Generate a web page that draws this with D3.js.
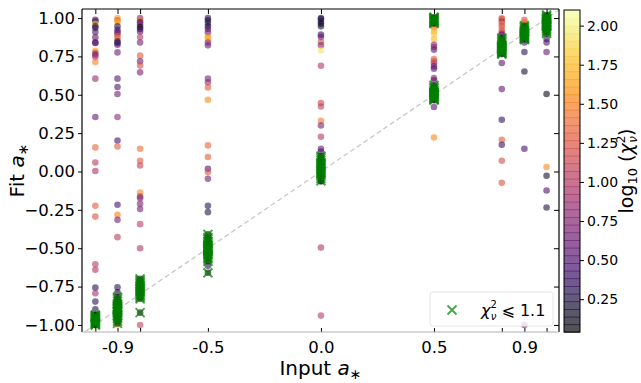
<!DOCTYPE html>
<html>
<head>
<meta charset="utf-8">
<script src="https://cdn.jsdelivr.net/npm/d3@7"></script>
<style>
  body { margin: 0; background: #fff; }
  text { font-family: "DejaVu Sans", sans-serif; }
</style>
</head>
<body>
<div id="chart"></div>
<script>
// input spins (one column of fits each)
const inputs = [-0.998, -0.9, -0.8, -0.5, 0, 0.5, 0.8, 0.9, 0.998];
const xTickVals = [-0.9, -0.5, 0, 0.5, 0.9];
const xTickLabels = ["-0.9", "-0.5", "0.0", "0.5", "0.9"];
const yTicks = [-1, -0.75, -0.5, -0.25, 0, 0.25, 0.5, 0.75, 1];
const cbTicks = [0.25, 0.5, 0.75, 1, 1.25, 1.5, 1.75, 2];
const cbDomain = [0.04, 2.1];
const goodChi = Math.log10(1.1);

// [fit a*, log10 chi2_nu] per input column
const fitsM0998 = [[0.989, 0.3], [0.978, 0.4], [0.963, 1.8], [0.946, 0.25], [0.935, 0.35], [0.909, 0.5],
  [0.874, 0.55], [0.841, 0.45], [0.838, 0.5], [0.787, 1.6], [0.772, 1.1], [0.761, 0.6], [0.746, 1.0],
  [0.714, 1.5], [0.605, 0.85], [0.355, 0.6], [0.157, 1.35], [0.059, 1.05], [0.003, 0.95], [-0.224, 1.3],
  [-0.294, 1.25], [-0.604, 1.05], [-0.641, 1.0], [-0.757, 0.3], [-0.793, 0.95], [-0.848, 0.3],
  [-0.898, 0.25], [-0.935, 0.2], [-0.967, 0.05], [-0.985, 0.1], [-1.0, 0.8],
  [-0.935, 0.02], [-0.94, 0.02], [-0.945, 0.03], [-0.95, 0.01], [-0.955, 0.02], [-0.96, 0.01],
  [-0.965, 0.03], [-0.97, 0.03], [-0.975, 0.01], [-0.98, 0.02], [-0.985, 0.03], [-0.99, 0.01],
  [-0.995, 0.02], [-1.0, 0.03]];
const fitsM09 = [[1.0, 1.6], [0.985, 1.3], [0.972, 1.7], [0.946, 0.3], [0.924, 0.5], [0.909, 0.45],
  [0.896, 0.85], [0.881, 1.3], [0.866, 1.45], [0.848, 0.35], [0.838, 0.3], [0.826, 0.5], [0.776, 0.65],
  [0.605, 0.55], [0.551, 0.5], [0.505, 0.65], [0.355, 0.8], [0.202, 0.45], [0.163, 1.3], [-0.217, 0.45],
  [-0.282, 1.5], [-0.315, 0.65], [-0.428, 1.05], [-0.754, 0.3], [-0.787, 0.15], [-1.0, 1.8],
  [-0.82, 0.02], [-0.83, 0.02], [-0.845, 0.01], [-0.86, 0.01], [-0.87, 0.02], [-0.88, 0.03],
  [-0.885, 0.01], [-0.89, 0.02], [-0.895, 0.03], [-0.9, 0.01], [-0.905, 0.02], [-0.91, 0.02],
  [-0.915, 0.01], [-0.92, 0.03], [-0.93, 0.02], [-0.94, 0.02], [-0.95, 0.03], [-0.96, 0.01],
  [-0.975, 0.02], [-0.99, 0.03]];
const fitsM08 = [[1.0, 0.8], [0.985, 1.4], [0.972, 0.3], [0.957, 0.75], [0.942, 0.1], [0.929, 0.25],
  [0.913, 0.5], [0.877, 1.0], [0.841, 0.65], [0.755, 1.3], [0.718, 0.65], [0.69, 1.2], [0.646, 0.7],
  [0.148, 1.4], [0.07, 1.3], [0.039, 1.1], [-0.137, 1.55], [-0.163, 0.85], [-0.174, 0.8], [-0.211, 0.7],
  [-0.245, 0.7], [-0.343, 1.05], [-0.5, 1.0], [-0.76, 0.3], [-1.0, 1.1],
  [-0.7, 0.02], [-0.71, 0.02], [-0.72, 0.01], [-0.73, 0.03], [-0.74, 0.03], [-0.75, 0.01],
  [-0.76, 0.02], [-0.77, 0.02], [-0.78, 0.01], [-0.79, 0.03], [-0.8, 0.02], [-0.81, 0.01],
  [-0.82, 0.03], [-0.83, 0.02], [-0.92, 0.02]];
const fitsM05 = [[1.0, 0.3], [0.985, 0.25], [0.968, 0.3], [0.946, 0.15], [0.929, 0.5], [0.907, 0.65],
  [0.877, 1.5], [0.863, 1.75], [0.841, 0.8], [0.822, 0.65], [0.605, 0.7], [0.581, 0.85], [0.548, 1.3],
  [0.468, 1.55], [0.17, 1.35], [0.094, 1.3], [0.018, 0.5], [-0.004, 1.25], [-0.048, 0.65],
  [-0.224, 0.3], [-0.265, 0.3], [-0.615, 0.3],
  [-0.41, 0.02], [-0.43, 0.02], [-0.44, 0.01], [-0.455, 0.02], [-0.47, 0.03], [-0.48, 0.01],
  [-0.49, 0.02], [-0.495, 0.03], [-0.5, 0.01], [-0.505, 0.02], [-0.51, 0.02], [-0.515, 0.01],
  [-0.52, 0.03], [-0.53, 0.02], [-0.54, 0.02], [-0.55, 0.01], [-0.56, 0.03], [-0.57, 0.02],
  [-0.585, 0.01], [-0.66, 0.03]];
const fits0 = [[1.0, 0.2], [0.994, 0.3], [0.978, 0.35], [0.963, 0.1], [0.946, 0.2], [0.892, 0.35],
  [0.877, 0.6], [0.844, 1.2], [0.822, 0.8], [0.789, 1.95], [0.689, 1.0], [0.446, 1.15], [0.424, 1.1],
  [0.331, 1.45], [0.3, 0.7], [0.226, 1.0], [0.148, 0.6], [0.13, 0.45], [0.065, 1.55], [-0.065, 0.1],
  [-0.496, 1.0], [-0.939, 1.05],
  [0.1, 0.02], [0.09, 0.02], [0.075, 0.03], [0.06, 0.01], [0.05, 0.02], [0.04, 0.03], [0.03, 0.01],
  [0.02, 0.02], [0.01, 0.01], [0.0, 0.02], [-0.01, 0.03], [-0.02, 0.01], [-0.03, 0.02],
  [-0.045, 0.03], [-0.06, 0.01]];
const fits05 = [[0.985, 0.15], [0.957, 1.45], [0.942, 1.5], [0.913, 1.65], [0.898, 1.85], [0.863, 1.75],
  [0.826, 0.8], [0.811, 0.85], [0.794, 0.6], [0.733, 1.3], [0.718, 1.2], [0.703, 1.05], [0.685, 0.6],
  [0.67, 0.55], [0.609, 0.75], [0.594, 0.55], [0.544, 0.5], [0.42, 0.55], [0.222, 1.55],
  [0.965, 0.02], [0.97, 0.02], [0.975, 0.03], [0.98, 0.01], [0.985, 0.02], [0.99, 0.03],
  [0.995, 0.01], [1.0, 0.02], [1.005, 0.01],
  [0.465, 0.02], [0.47, 0.02], [0.475, 0.03], [0.48, 0.01], [0.485, 0.02], [0.49, 0.03],
  [0.495, 0.01], [0.5, 0.02], [0.505, 0.02], [0.51, 0.01], [0.515, 0.03], [0.52, 0.02],
  [0.53, 0.01], [0.54, 0.03], [0.55, 0.02], [0.56, 0.02]];
const fits08 = [[1.0, 1.5], [0.994, 1.15], [0.978, 0.85], [0.963, 1.45], [0.946, 1.2], [0.924, 1.3],
  [0.907, 1.1], [0.892, 0.4], [0.707, 0.55], [0.537, 0.6], [0.337, 0.35], [0.207, 1.3], [0.174, 0.4],
  [0.07, 1.2], [-0.074, 1.25],
  [0.765, 0.02], [0.77, 0.02], [0.775, 0.03], [0.78, 0.01], [0.785, 0.02], [0.79, 0.03],
  [0.795, 0.01], [0.8, 0.02], [0.805, 0.02], [0.81, 0.01], [0.815, 0.03], [0.82, 0.02],
  [0.83, 0.01], [0.84, 0.03], [0.85, 0.02], [0.86, 0.02], [0.87, 0.01]];
const fits09 = [[0.989, 1.2], [0.972, 1.4], [0.957, 1.5], [0.942, 0.75], [0.929, 1.1], [0.913, 0.2],
  [0.874, 0.3], [0.841, 0.45], [0.779, 0.3], [0.652, 0.2], [0.148, 0.45], [-1.0, 0.65],
  [0.86, 0.02], [0.865, 0.02], [0.87, 0.03], [0.875, 0.01], [0.88, 0.02], [0.885, 0.03],
  [0.89, 0.01], [0.895, 0.02], [0.9, 0.02], [0.905, 0.01], [0.91, 0.03], [0.915, 0.02],
  [0.92, 0.01], [0.93, 0.03], [0.94, 0.02], [0.95, 0.02]];
const fits0998 = [[1.0, 0.3], [0.99, 0.35], [0.96, 0.25], [0.93, 0.3], [0.863, 0.35], [0.841, 0.5],
  [0.779, 0.6], [0.505, 0.1], [0.029, 1.55], [-0.028, 0.2], [-0.124, 0.5], [-0.235, 0.25],
  [0.9, 0.02], [0.91, 0.02], [0.92, 0.03], [0.93, 0.01], [0.94, 0.02], [0.945, 0.03],
  [0.95, 0.03], [0.955, 0.01], [0.96, 0.02], [0.965, 0.02], [0.97, 0.01], [0.975, 0.03],
  [0.98, 0.02], [0.985, 0.01], [0.99, 0.03], [0.995, 0.02], [1.0, 0.02], [1.01, 0.01], [1.02, 0.02]];

const columns = [fitsM0998, fitsM09, fitsM08, fitsM05, fits0, fits05, fits08, fits09, fits0998];

const W = 641, H = 383;
const plot = { left: 82, right: 559, top: 9, bottom: 332 };
const cb = { left: 564, right: 580, top: 10, bottom: 332 };

const points = [];
columns.forEach((col, i) => col.forEach(d => points.push({ input: inputs[i], fit: d[0], chi: d[1] })));

const svg = d3.select("#chart").append("svg")
  .attr("width", W)
  .attr("height", H);

const x = d3.scaleLinear().domain([-1.057, 1.053]).range([plot.left, plot.right]);
const y = d3.scaleLinear().domain([-1.046, 1.059]).range([plot.bottom, plot.top]);
const color = d3.scaleSequential(d3.interpolateInferno).domain(cbDomain).clamp(true);

svg.append("clipPath").attr("id", "clip")
  .append("rect")
  .attr("x", plot.left).attr("y", plot.top)
  .attr("width", plot.right - plot.left).attr("height", plot.bottom - plot.top);

// one-to-one line
svg.append("line")
  .attr("clip-path", "url(#clip)")
  .attr("x1", x(-1.1)).attr("y1", y(-1.1))
  .attr("x2", x(1.1)).attr("y2", y(1.1))
  .attr("stroke", "#c8c8c8")
  .attr("stroke-width", 1.3)
  .attr("stroke-dasharray", "5,3");

// scatter, coloured by log chi2
svg.append("g")
  .selectAll("circle")
  .data(points)
  .enter()
  .append("circle")
  .attr("cx", d => x(d.input))
  .attr("cy", d => y(d.fit))
  .attr("r", 3.3)
  .attr("fill", d => color(d.chi))
  .attr("fill-opacity", 0.58);

// good fits
const xMark = "M-4.5,-4.5L4.5,4.5M-4.5,4.5L4.5,-4.5";
svg.append("g")
  .selectAll("path")
  .data(points.filter(d => d.chi <= goodChi))
  .enter()
  .append("path")
  .attr("transform", d => `translate(${x(d.input)},${y(d.fit)})`)
  .attr("d", xMark)
  .attr("stroke", "green")
  .attr("stroke-width", 2)
  .attr("stroke-opacity", 0.7)
  .attr("fill", "none");

// axes
const yFmt = d3.format(".2f");
const left = svg.append("g")
  .attr("transform", `translate(${plot.left},0)`)
  .call(d3.axisLeft(y).tickValues(yTicks).tickFormat(yFmt).tickSize(4).tickPadding(3));
left.selectAll("text").style("font-size", "16.5px").attr("fill", "#000");

svg.append("g")
  .attr("transform", `translate(${plot.right},0)`)
  .call(d3.axisRight(y).tickValues(yTicks).tickFormat("").tickSize(-5));

svg.append("g")
  .attr("transform", `translate(0,${plot.top})`)
  .call(d3.axisTop(x).tickValues(inputs).tickFormat("").tickSize(-5));

const bottom = svg.append("g")
  .attr("transform", `translate(0,${plot.bottom})`)
  .call(d3.axisBottom(x).tickValues(inputs).tickSize(-4).tickPadding(9)
    .tickFormat(v => {
      const k = xTickVals.indexOf(v);
      return k < 0 ? "" : xTickLabels[k];
    }));
bottom.selectAll("text").style("font-size", "16.5px").attr("fill", "#000");

svg.selectAll(".domain").remove();

// spines
svg.append("line").attr("x1", plot.left).attr("x2", plot.right).attr("y1", plot.top).attr("y2", plot.top)
  .attr("stroke", "#000").attr("stroke-width", 1.2);
svg.append("line").attr("x1", plot.left).attr("x2", plot.left).attr("y1", plot.top).attr("y2", plot.bottom)
  .attr("stroke", "#000").attr("stroke-width", 1.2);
svg.append("line").attr("x1", plot.right).attr("x2", plot.right).attr("y1", plot.top).attr("y2", plot.bottom)
  .attr("stroke", "#000").attr("stroke-width", 1.2);
svg.append("line").attr("x1", plot.left).attr("x2", plot.right).attr("y1", plot.bottom).attr("y2", plot.bottom)
  .attr("stroke", "#b0b0b0").attr("stroke-width", 1.2);

// axis labels
const xl = svg.append("text")
  .attr("x", (plot.left + plot.right) / 2)
  .attr("y", 375)
  .attr("text-anchor", "middle")
  .style("font-size", "20px");
xl.append("tspan").text("Input ");
xl.append("tspan").attr("font-style", "italic").text("a");
xl.append("tspan").attr("dy", 4).style("font-size", "14px").text("∗");

const yl = svg.append("text")
  .attr("transform", `translate(24,${(plot.top + plot.bottom) / 2}) rotate(-90)`)
  .attr("text-anchor", "middle")
  .style("font-size", "20px");
yl.append("tspan").text("Fit ");
yl.append("tspan").attr("font-style", "italic").text("a");
yl.append("tspan").attr("dy", 4).style("font-size", "14px").text("∗");

// legend
const legend = svg.append("g");
legend.append("rect")
  .attr("x", 430).attr("y", 292)
  .attr("width", 123).attr("height", 34)
  .attr("rx", 3)
  .attr("fill", "#fff").attr("fill-opacity", 0.8)
  .attr("stroke", "#e6e6e6");
legend.append("path")
  .attr("transform", "translate(452,310)")
  .attr("d", xMark)
  .attr("stroke", "green")
  .attr("stroke-width", 2)
  .attr("stroke-opacity", 0.7)
  .attr("fill", "none");
const lt = legend.append("text").attr("x", 481).attr("y", 316).style("font-size", "16px");
lt.append("tspan").attr("font-style", "italic").text("χ");
lt.append("tspan").attr("dy", -8).style("font-size", "10px").text("2");
lt.append("tspan").attr("dx", -6).attr("dy", 12).style("font-size", "10px").attr("font-style", "italic").text("ν");
lt.append("tspan").attr("dx", 5).attr("dy", -4).text("⩽ 1.1");

// colorbar
const cbY = d3.scaleLinear().domain(cbDomain).range([cb.bottom, cb.top]);
const nBands = 42;
const bands = d3.range(nBands).map(i => cbDomain[0] + (i + 0.5) * (cbDomain[1] - cbDomain[0]) / nBands);
const bandH = (cb.bottom - cb.top) / nBands;
svg.append("g")
  .selectAll("rect")
  .data(bands)
  .enter()
  .append("rect")
  .attr("x", cb.left)
  .attr("y", d => cbY(d) - bandH / 2)
  .attr("width", cb.right - cb.left)
  .attr("height", bandH + 0.8)
  .attr("fill", d => color(d))
  .attr("fill-opacity", 0.68);
svg.append("rect")
  .attr("x", cb.left).attr("y", cb.top)
  .attr("width", cb.right - cb.left).attr("height", cb.bottom - cb.top)
  .attr("fill", "none").attr("stroke", "#000").attr("stroke-width", 1);

const cbAxis = svg.append("g")
  .attr("transform", `translate(${cb.right},0)`)
  .call(d3.axisRight(cbY).tickValues(cbTicks).tickFormat(d3.format(".2f")).tickSize(4).tickPadding(3));
cbAxis.select(".domain").remove();
cbAxis.selectAll("text").style("font-size", "14px").attr("fill", "#000");

const cl = svg.append("text")
  .attr("transform", `translate(633,${(cb.top + cb.bottom) / 2}) rotate(-90)`)
  .attr("text-anchor", "middle")
  .style("font-size", "19px");
cl.append("tspan").text("log");
cl.append("tspan").attr("dy", 4).style("font-size", "13px").text("10");
cl.append("tspan").attr("dy", -4).text(" (");
cl.append("tspan").attr("font-style", "italic").text("χ");
cl.append("tspan").attr("dy", -8).style("font-size", "12px").text("2");
cl.append("tspan").attr("dx", -7).attr("dy", 12).style("font-size", "12px").attr("font-style", "italic").text("ν");
cl.append("tspan").attr("dy", -4).text(")");
</script>
</body>
</html>
